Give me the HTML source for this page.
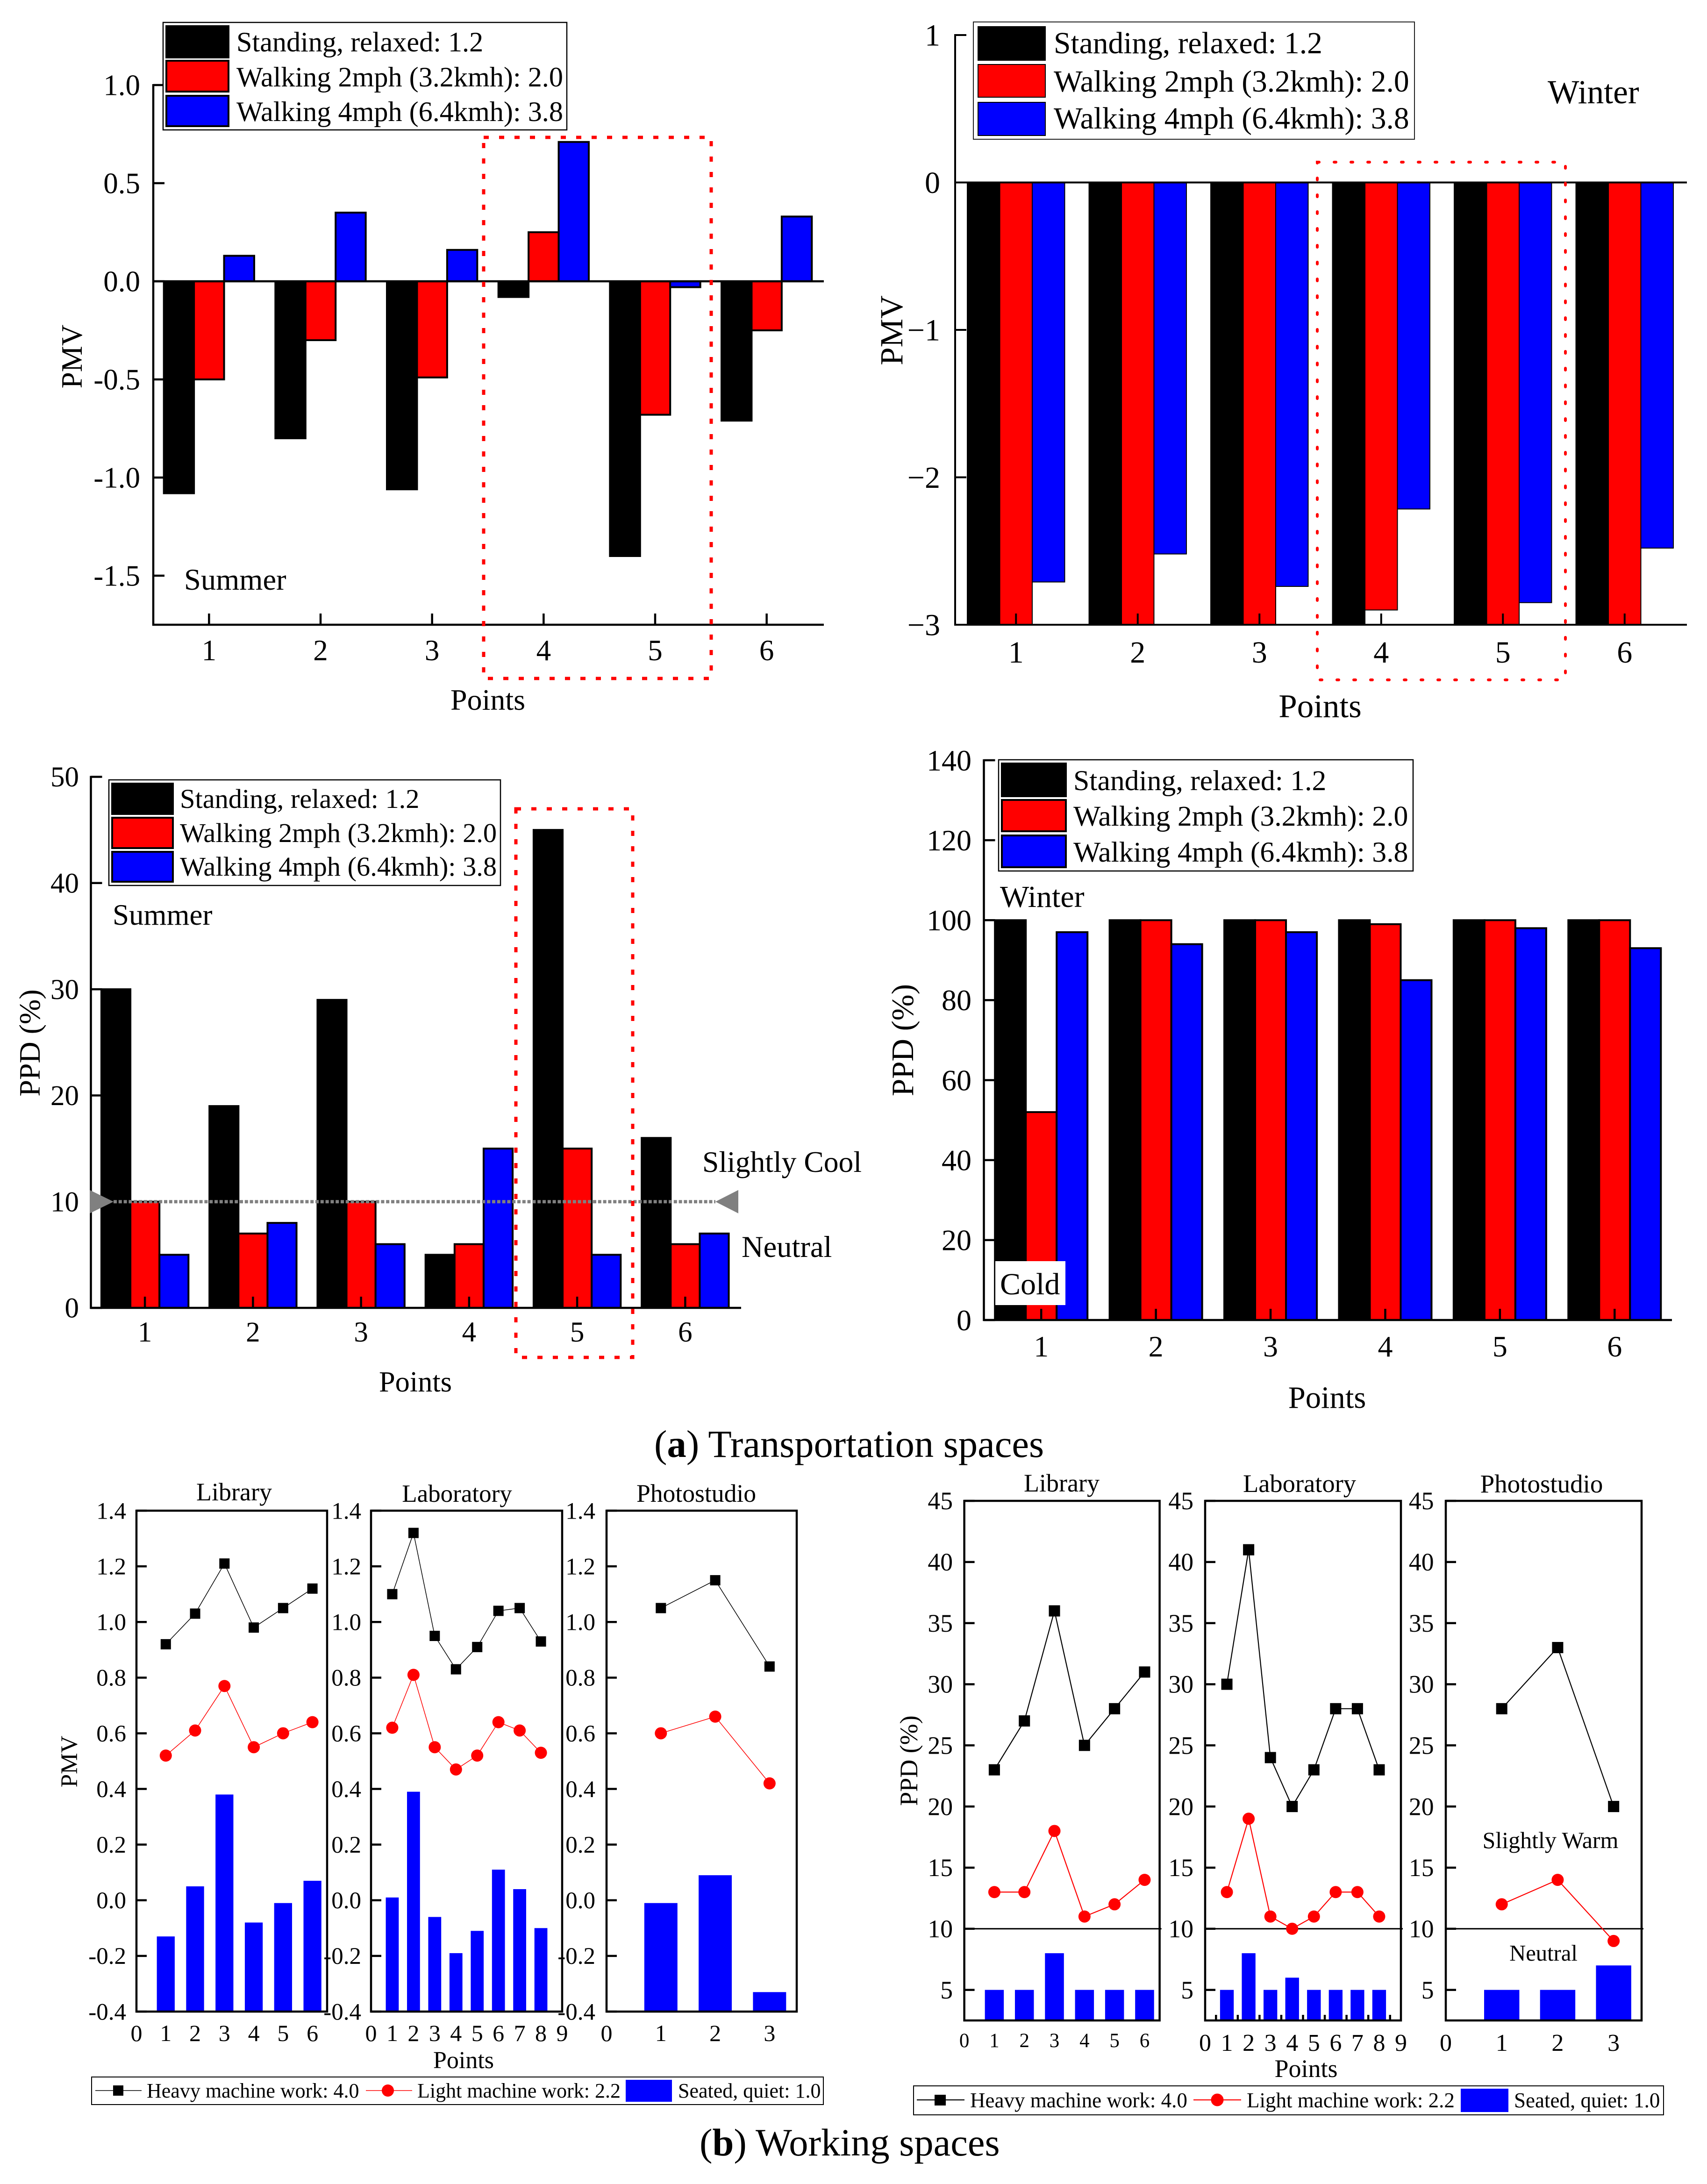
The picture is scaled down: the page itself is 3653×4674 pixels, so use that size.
<!DOCTYPE html>
<html lang="en">
<head>
<meta charset="utf-8">
<title>PMV and PPD charts</title>
<style>
html,body{margin:0;padding:0;background:#fff;}
svg{display:block;}
text{font-family:"Liberation Serif","Times New Roman",serif;fill:#000;}
</style>
</head>
<body>
<svg xmlns="http://www.w3.org/2000/svg" width="3653" height="4674" viewBox="0 0 3653 4674">
<rect width="3653" height="4674" fill="#fff"/>

<!-- Summer PMV -->
<g>
  <g id="summer-pmv-plot"></g>
  <g>
    <rect x="349" y="48" width="864" height="230" fill="#fff" stroke="#000" stroke-width="2.5"/>
    <rect x="356" y="56" width="133" height="67" fill="#000" stroke="#000" stroke-width="4"/>
    <rect x="356" y="130" width="133" height="66" fill="#f00" stroke="#000" stroke-width="4"/>
    <rect x="356" y="205" width="133" height="65" fill="#00f" stroke="#000" stroke-width="4"/>
    <text x="506" y="110" font-size="60.2">Standing, relaxed: 1.2</text>
    <text x="506" y="185" font-size="60.2">Walking 2mph (3.2kmh): 2.0</text>
    <text x="506" y="259" font-size="60.2">Walking 4mph (6.4kmh): 3.8</text>
  </g>
  <text x="394" y="1262" font-size="64.5">Summer</text>
  <text transform="translate(175,763) rotate(-90)" text-anchor="middle" font-size="63">PMV</text>
  <text x="1044" y="1519" text-anchor="middle" font-size="64">Points</text>
  <rect x="1035" y="294" width="487" height="1158" fill="none" stroke="#f00" stroke-width="7" stroke-dasharray="11 22"/>
</g>

<!-- Winter PMV -->
<g>
  <g id="winter-pmv-plot"></g>
  <g>
    <rect x="2083" y="47" width="944" height="251" fill="#fff" stroke="#222" stroke-width="2"/>
    <rect x="2093" y="57" width="144" height="72" fill="#000" stroke="#000" stroke-width="2"/>
    <rect x="2093" y="138" width="144" height="70" fill="#f00" stroke="#000" stroke-width="2"/>
    <rect x="2093" y="219" width="144" height="71" fill="#00f" stroke="#000" stroke-width="2"/>
    <text x="2255" y="114" font-size="65.5">Standing, relaxed: 1.2</text>
    <text x="2255" y="196" font-size="65.5">Walking 2mph (3.2kmh): 2.0</text>
    <text x="2255" y="275" font-size="65.5">Walking 4mph (6.4kmh): 3.8</text>
  </g>
  <text x="3312" y="221" font-size="71.5">Winter</text>
  <text transform="translate(1931,707) rotate(-90)" text-anchor="middle" font-size="69">PMV</text>
  <text x="2825" y="1535" text-anchor="middle" font-size="71">Points</text>
  <rect x="2819" y="347" width="531" height="1108" fill="none" stroke="#f00" stroke-width="6" stroke-dasharray="4 32" stroke-linecap="round"/>
</g>

<!-- Summer PPD -->
<g>
  <g id="summer-ppd-plot"></g>
  <g>
    <rect x="233" y="1669" width="838" height="226" fill="#fff" stroke="#000" stroke-width="2.5"/>
    <rect x="240" y="1677" width="130" height="65" fill="#000" stroke="#000" stroke-width="4"/>
    <rect x="240" y="1750" width="130" height="65" fill="#f00" stroke="#000" stroke-width="4"/>
    <rect x="240" y="1823" width="130" height="64" fill="#00f" stroke="#000" stroke-width="4"/>
    <text x="385" y="1729" font-size="58.4">Standing, relaxed: 1.2</text>
    <text x="385" y="1802" font-size="58.4">Walking 2mph (3.2kmh): 2.0</text>
    <text x="385" y="1874" font-size="58.4">Walking 4mph (6.4kmh): 3.8</text>
  </g>
  <text x="241" y="1979" font-size="63">Summer</text>
  <text x="1503" y="2508" font-size="63.6">Slightly Cool</text>
  <text x="1587" y="2690" font-size="64.5">Neutral</text>
  <text transform="translate(85,2232) rotate(-90)" text-anchor="middle" font-size="64">PPD (%)</text>
  <text x="889" y="2978" text-anchor="middle" font-size="62.4">Points</text>
  <rect x="1104" y="1731" width="250" height="1174" fill="none" stroke="#f00" stroke-width="7" stroke-dasharray="11 22"/>
</g>

<!-- Winter PPD -->
<g>
  <g id="winter-ppd-plot"></g>
  <g>
    <rect x="2137" y="1626" width="887" height="238" fill="#fff" stroke="#000" stroke-width="2.5"/>
    <rect x="2144" y="1634" width="137" height="70" fill="#000" stroke="#000" stroke-width="4"/>
    <rect x="2144" y="1712" width="137" height="67" fill="#f00" stroke="#000" stroke-width="4"/>
    <rect x="2144" y="1788" width="137" height="68" fill="#00f" stroke="#000" stroke-width="4"/>
    <text x="2297" y="1691" font-size="61.7">Standing, relaxed: 1.2</text>
    <text x="2297" y="1767" font-size="61.7">Walking 2mph (3.2kmh): 2.0</text>
    <text x="2297" y="1844" font-size="61.7">Walking 4mph (6.4kmh): 3.8</text>
  </g>
  <text x="2140" y="1941" font-size="66">Winter</text>
  <rect x="2130" y="2699" width="150" height="94" fill="#fff"/>
  <text x="2140" y="2770" font-size="66">Cold</text>
  <text transform="translate(1954,2226) rotate(-90)" text-anchor="middle" font-size="67">PPD (%)</text>
  <text x="2840" y="3013" text-anchor="middle" font-size="66.6">Points</text>
</g>

<text x="1400" y="3118" font-size="82.5">(<tspan font-weight="bold">a</tspan>) Transportation spaces</text>

<!-- Working spaces PMV -->
<g>
  <g id="work-pmv-library"></g>
  <g id="work-pmv-laboratory"></g>
  <g id="work-pmv-photostudio"></g>
  <text x="501" y="3211" text-anchor="middle" font-size="54">Library</text>
  <text x="978" y="3214" text-anchor="middle" font-size="53">Laboratory</text>
  <text x="1490" y="3214" text-anchor="middle" font-size="53.6">Photostudio</text>
  <text transform="translate(165,3770) rotate(-90)" text-anchor="middle" font-size="51">PMV</text>
  <text x="992" y="4426" text-anchor="middle" font-size="52">Points</text>
  <g>
    <rect x="196" y="4445" width="1566" height="59" fill="none" stroke="#000" stroke-width="2"/>
    <line x1="204" y1="4474" x2="303" y2="4474" stroke="#000" stroke-width="1.5"/>
    <rect x="242" y="4463" width="22" height="22" fill="#000"/>
    <text x="314" y="4489" font-size="44">Heavy machine work: 4.0</text>
    <line x1="783" y1="4474" x2="882" y2="4474" stroke="#f00" stroke-width="1.5"/>
    <circle cx="830" cy="4474" r="13" fill="#f00"/>
    <text x="893" y="4489" font-size="44">Light machine work: 2.2</text>
    <rect x="1339" y="4451" width="99" height="47" fill="#00f"/>
    <text x="1451" y="4489" font-size="44">Seated, quiet: 1.0</text>
  </g>
</g>

<!-- Working spaces PPD -->
<g>
  <g id="work-ppd-library"></g>
  <g id="work-ppd-laboratory"></g>
  <g id="work-ppd-photostudio"></g>
  <text x="2272" y="3192" text-anchor="middle" font-size="54">Library</text>
  <text x="2781" y="3193" text-anchor="middle" font-size="54.5">Laboratory</text>
  <text x="3299" y="3194" text-anchor="middle" font-size="55">Photostudio</text>
  <text x="3318" y="3955" text-anchor="middle" font-size="50">Slightly Warm</text>
  <text x="3303" y="4196" text-anchor="middle" font-size="48.6">Neutral</text>
  <text transform="translate(1963,3768) rotate(-90)" text-anchor="middle" font-size="54">PPD (%)</text>
  <text x="2795" y="4445" text-anchor="middle" font-size="54">Points</text>
  <g>
    <rect x="1955" y="4464" width="1605" height="62" fill="none" stroke="#000" stroke-width="2"/>
    <line x1="1962" y1="4494" x2="2064" y2="4494" stroke="#000" stroke-width="2.2"/>
    <rect x="2000" y="4483" width="24" height="23" fill="#000"/>
    <text x="2076" y="4510" font-size="45">Heavy machine work: 4.0</text>
    <line x1="2554" y1="4494" x2="2656" y2="4494" stroke="#f00" stroke-width="2.2"/>
    <circle cx="2605" cy="4494" r="13.5" fill="#f00"/>
    <text x="2668" y="4510" font-size="45">Light machine work: 2.2</text>
    <rect x="3126" y="4470" width="102" height="50" fill="#00f"/>
    <text x="3240" y="4510" font-size="45">Seated, quiet: 1.0</text>
  </g>
</g>

<text x="1497" y="4613" font-size="82.5">(<tspan font-weight="bold">b</tspan>) Working spaces</text>
</svg>

<script>
// ---- transportation charts: shared categories ----
const pointCategories = [1, 2, 3, 4, 5, 6];

// Summer PMV values
const summerPmvStanding = [-1.08, -0.8, -1.06, -0.08, -1.4, -0.71];
const summerPmvWalking2 = [-0.5, -0.3, -0.49, 0.25, -0.68, -0.25];
const summerPmvWalking4 = [0.13, 0.35, 0.16, 0.71, -0.03, 0.33];
const summerPmvTicks = [1, 0.5, 0, -0.5, -1, -1.5];
const summerPmvTickLabels = ['1.0', '0.5', '0.0', '-0.5', '-1.0', '-1.5'];

// Winter PMV values
const winterPmvStanding = [-3, -3, -3, -3, -3, -3];
const winterPmvWalking2 = [-3, -3, -3, -2.9, -3, -3];
const winterPmvWalking4 = [-2.71, -2.52, -2.74, -2.215, -2.85, -2.48];
const winterPmvTicks = [1, 0, -1, -2, -3];
const winterPmvTickLabels = ['1', '0', '\u22121', '\u22122', '\u22123'];

// Summer PPD values
const summerPpdStanding = [30, 19, 29, 5, 45, 16];
const summerPpdWalking2 = [10, 7, 10, 6, 15, 6];
const summerPpdWalking4 = [5, 8, 6, 15, 5, 7];
const summerPpdTicks = [0, 10, 20, 30, 40, 50];
const summerPpdTickLabels = ['0', '10', '20', '30', '40', '50'];
const summerPpdThreshold = 10;

// Winter PPD values
const winterPpdStanding = [100, 100, 100, 100, 100, 100];
const winterPpdWalking2 = [52, 100, 100, 99, 100, 100];
const winterPpdWalking4 = [97, 94, 97, 85, 98, 93];
const winterPpdTicks = [0, 20, 40, 60, 80, 100, 120, 140];
const winterPpdTickLabels = ['0', '20', '40', '60', '80', '100', '120', '140'];

// ---- working-space charts ----
const libraryPoints = [1, 2, 3, 4, 5, 6];
const laboratoryPoints = [1, 2, 3, 4, 5, 6, 7, 8];
const photostudioPoints = [1, 2, 3];
const libraryAxisLabels = [0, 1, 2, 3, 4, 5, 6];
const laboratoryAxisLabels = [0, 1, 2, 3, 4, 5, 6, 7, 8, 9];
const photostudioAxisLabels = [0, 1, 2, 3];

const pmvLibraryHeavy = [0.92, 1.03, 1.21, 0.98, 1.05, 1.12];
const pmvLibraryLight = [0.52, 0.61, 0.77, 0.55, 0.6, 0.64];
const pmvLibrarySeated = [-0.13, 0.05, 0.38, -0.08, -0.01, 0.07];
const pmvLaboratoryHeavy = [1.1, 1.32, 0.95, 0.83, 0.91, 1.04, 1.05, 0.93];
const pmvLaboratoryLight = [0.62, 0.81, 0.55, 0.47, 0.52, 0.64, 0.61, 0.53];
const pmvLaboratorySeated = [0.01, 0.39, -0.06, -0.19, -0.11, 0.11, 0.04, -0.1];
const pmvPhotostudioHeavy = [1.05, 1.15, 0.84];
const pmvPhotostudioLight = [0.6, 0.66, 0.42];
const pmvPhotostudioSeated = [-0.01, 0.09, -0.33];
const pmvWorkTicks = [-0.4, -0.2, 0, 0.2, 0.4, 0.6, 0.8, 1, 1.2, 1.4];
const pmvWorkTickLabels = ['-0.4', '-0.2', '0.0', '0.2', '0.4', '0.6', '0.8', '1.0', '1.2', '1.4'];

const ppdLibraryHeavy = [23, 27, 36, 25, 28, 31];
const ppdLibraryLight = [13, 13, 18, 11, 12, 14];
const ppdLibrarySeated = [5, 5, 8, 5, 5, 5];
const ppdLaboratoryHeavy = [30, 41, 24, 20, 23, 28, 28, 23];
const ppdLaboratoryLight = [13, 19, 11, 10, 11, 13, 13, 11];
const ppdLaboratorySeated = [5, 8, 5, 6, 5, 5, 5, 5];
const ppdPhotostudioHeavy = [28, 33, 20];
const ppdPhotostudioLight = [12, 14, 9];
const ppdPhotostudioSeated = [5, 5, 7];
const ppdWorkTicks = [5, 10, 15, 20, 25, 30, 35, 40, 45];
const ppdWorkTickLabels = ['5', '10', '15', '20', '25', '30', '35', '40', '45'];
const ppdComfortLine = 10;

const SVG_NS = 'http://www.w3.org/2000/svg';

function make(parent, tag, name, attrs, content) {
  const el = document.createElementNS(SVG_NS, tag);
  
  
  Object.keys(attrs).forEach(function (k) { el.setAttribute(k, attrs[k]); });
  if (content !== undefined) el.textContent = content;
  parent.appendChild(el);
  return el;
}

function linear(d0, d1, r0, r1) {
  return function (v) { return r0 + (v - d0) * (r1 - r0) / (d1 - d0); };
}

function drawBarChart(id, o) {
  const g = document.getElementById(id);
  const x = linear(0.5, 6.5, o.left, o.right);
  const y = linear(o.yMin, o.yMax, o.bottom, o.top);
  const base = y(Math.max(o.yMin, Math.min(0, o.yMax)));
  const unit = (o.right - o.left) / 6;
  const w = unit * o.groupFrac / 3;
  const seriesColors = ['#000', '#f00', '#00f'];
  const seriesNames = ['standing', 'walking-2mph', 'walking-4mph'];
  o.series.forEach(function (vals, s) {
    vals.forEach(function (v, i) {
      const bx = x(pointCategories[i]) - 1.5 * w + s * w;
      const by = y(v);
      make(g, 'rect', 'bar-' + seriesNames[s] + '-point-' + pointCategories[i], {
        x: bx, y: Math.min(by, base), width: w, height: Math.abs(by - base),
        fill: seriesColors[s], stroke: '#000', 'stroke-width': o.barStroke
      });
    });
  });
  // axes
  make(g, 'line', 'y-axis', { x1: o.left, x2: o.left, y1: o.top - 2, y2: o.bottom + 2, stroke: '#000', 'stroke-width': o.axisStroke });
  make(g, 'line', 'x-axis', { x1: o.left - 2, x2: o.axisEnd, y1: o.bottom, y2: o.bottom, stroke: '#000', 'stroke-width': o.axisStroke });
  if (o.yMin < 0 && o.yMax > 0) {
    make(g, 'line', 'zero-line', { x1: o.left, x2: o.axisEnd, y1: y(0), y2: y(0), stroke: '#000', 'stroke-width': o.axisStroke });
  }
  o.ticks.forEach(function (t, i) {
    const ty = y(t);
    make(g, 'line', 'y-tick', { x1: o.left, x2: o.left + o.tickLen, y1: ty, y2: ty, stroke: '#000', 'stroke-width': o.axisStroke });
    make(g, 'text', 'y-tick-label', { x: o.labelRight, y: ty + o.labelSize * 0.34, 'text-anchor': 'end', 'font-size': o.labelSize }, o.tickLabels[i]);
  });
  pointCategories.forEach(function (c) {
    const tx = x(c);
    make(g, 'line', 'x-tick', { x1: tx, x2: tx, y1: o.bottom, y2: o.bottom - o.tickLen, stroke: '#000', 'stroke-width': o.axisStroke });
    make(g, 'text', 'x-tick-label', { x: tx, y: o.xLabelY, 'text-anchor': 'middle', 'font-size': o.labelSize }, String(c));
  });
  return { x: x, y: y, g: g };
}

function drawWorkPanel(id, o) {
  const g = document.getElementById(id);
  const x = linear(0, o.xMax, o.left, o.right);
  const y = linear(o.yMin, o.yMax, o.bottom, o.top);
  const barW = (x(1) - x(0)) * o.barFrac;
  o.points.forEach(function (p, i) {
    const ty = y(o.seated[i]);
    make(g, 'rect', 'bar-seated-point-' + p, { x: x(p) - barW / 2, y: ty, width: barW, height: o.bottom - ty, fill: '#00f' });
  });
  if (o.comfortLine !== undefined) {
    make(g, 'line', 'comfort-reference-line', { x1: o.left, x2: o.right + 4, y1: y(o.comfortLine), y2: y(o.comfortLine), stroke: '#000', 'stroke-width': 3 });
  }
  if (o.minorTicks) {
    for (let t = 0.5; t < o.xMax; t += 1) {
      make(g, 'line', 'x-minor-tick', { x1: x(t), x2: x(t), y1: o.bottom, y2: o.bottom - 12, stroke: '#000', 'stroke-width': 4.5 });
    }
  }
  make(g, 'rect', 'panel-frame', { x: o.left, y: o.top, width: o.right - o.left, height: o.bottom - o.top, fill: 'none', stroke: '#000', 'stroke-width': 4.5 });
  o.ticks.forEach(function (t, i) {
    const ty = y(t);
    make(g, 'line', 'y-tick', { x1: o.left, x2: o.left + 22, y1: ty, y2: ty, stroke: '#000', 'stroke-width': 4.5 });
    make(g, 'text', 'y-tick-label', { x: o.labelRight, y: ty + o.yLabelSize * 0.34, 'text-anchor': 'end', 'font-size': o.yLabelSize }, o.tickLabels[i]);
  });
  o.axisLabels.forEach(function (t) {
    make(g, 'text', 'x-tick-label', { x: x(t), y: o.xLabelY, 'text-anchor': 'middle', 'font-size': o.xLabelSize }, String(t));
  });
  const heavyPath = o.points.map(function (p, i) { return x(p) + ',' + y(o.heavy[i]); }).join(' ');
  make(g, 'polyline', 'heavy-work-line', { points: heavyPath, fill: 'none', stroke: '#000', 'stroke-width': o.lineWidth });
  const lightPath = o.points.map(function (p, i) { return x(p) + ',' + y(o.light[i]); }).join(' ');
  make(g, 'polyline', 'light-work-line', { points: lightPath, fill: 'none', stroke: '#f00', 'stroke-width': o.lineWidth });
  o.points.forEach(function (p, i) {
    make(g, 'rect', 'heavy-work-point-' + p, { x: x(p) - o.marker / 2, y: y(o.heavy[i]) - o.marker / 2, width: o.marker, height: o.marker, fill: '#000' });
    make(g, 'circle', 'light-work-point-' + p, { cx: x(p), cy: y(o.light[i]), r: o.circleR, fill: '#f00' });
  });
}

drawBarChart('summer-pmv-plot', {
  left: 328, right: 1760, axisEnd: 1763, top: 182, bottom: 1337, yMin: -1.75, yMax: 1,
  groupFrac: 0.81, barStroke: 4, axisStroke: 4.5, tickLen: 24, labelSize: 63, labelRight: 300, xLabelY: 1413,
  series: [summerPmvStanding, summerPmvWalking2, summerPmvWalking4],
  ticks: summerPmvTicks, tickLabels: summerPmvTickLabels
});

drawBarChart('winter-pmv-plot', {
  left: 2044, right: 3607, axisEnd: 3610, top: 75, bottom: 1337, yMin: -3, yMax: 1,
  groupFrac: 0.8, barStroke: 2, axisStroke: 4, tickLen: 24, labelSize: 66, labelRight: 2012, xLabelY: 1418,
  series: [winterPmvStanding, winterPmvWalking2, winterPmvWalking4],
  ticks: winterPmvTicks, tickLabels: winterPmvTickLabels
});

const summerPpdScales = drawBarChart('summer-ppd-plot', {
  left: 194.5, right: 1582, axisEnd: 1586, top: 1662.5, bottom: 2799, yMin: 0, yMax: 50,
  groupFrac: 0.806, barStroke: 4, axisStroke: 4.5, tickLen: 24, labelSize: 61, labelRight: 169, xLabelY: 2871,
  series: [summerPpdStanding, summerPpdWalking2, summerPpdWalking4],
  ticks: summerPpdTicks, tickLabels: summerPpdTickLabels
});
(function () {
  const g = summerPpdScales.g;
  const ly = summerPpdScales.y(summerPpdThreshold);
  make(g, 'line', 'slightly-cool-threshold-line', { x1: 243, x2: 1531, y1: ly, y2: ly, stroke: '#808080', 'stroke-width': 7, 'stroke-dasharray': '7 3.8' });
  make(g, 'polygon', 'threshold-arrow-left', { points: '192,' + (ly - 25) + ' 243,' + ly + ' 192,' + (ly + 25), fill: '#808080' });
  make(g, 'polygon', 'threshold-arrow-right', { points: '1580,' + (ly - 25) + ' 1531,' + ly + ' 1580,' + (ly + 25), fill: '#808080' });
})();

drawBarChart('winter-ppd-plot', {
  left: 2105.5, right: 3578, axisEnd: 3578, top: 1627, bottom: 2825, yMin: 0, yMax: 140,
  groupFrac: 0.807, barStroke: 4, axisStroke: 4.5, tickLen: 24, labelSize: 64, labelRight: 2079, xLabelY: 2903,
  series: [winterPpdStanding, winterPpdWalking2, winterPpdWalking4],
  ticks: winterPpdTicks, tickLabels: winterPpdTickLabels
});

const pmvWorkBase = { top: 3233, bottom: 4305, yMin: -0.4, yMax: 1.4, ticks: pmvWorkTicks, tickLabels: pmvWorkTickLabels,
  yLabelSize: 51, xLabelSize: 50, xLabelY: 4368, marker: 22, circleR: 13, lineWidth: 1.5, barFrac: 0.61 };
drawWorkPanel('work-pmv-library', Object.assign({}, pmvWorkBase, {
  left: 292, right: 700, xMax: 6.5, labelRight: 270, points: libraryPoints, axisLabels: libraryAxisLabels,
  heavy: pmvLibraryHeavy, light: pmvLibraryLight, seated: pmvLibrarySeated
}));
drawWorkPanel('work-pmv-laboratory', Object.assign({}, pmvWorkBase, {
  left: 794, right: 1203, xMax: 9, labelRight: 773, points: laboratoryPoints, axisLabels: laboratoryAxisLabels,
  heavy: pmvLaboratoryHeavy, light: pmvLaboratoryLight, seated: pmvLaboratorySeated
}));
drawWorkPanel('work-pmv-photostudio', Object.assign({}, pmvWorkBase, {
  left: 1298, right: 1705, xMax: 3.5, labelRight: 1274, points: photostudioPoints, axisLabels: photostudioAxisLabels,
  heavy: pmvPhotostudioHeavy, light: pmvPhotostudioLight, seated: pmvPhotostudioSeated
}));

const ppdWorkBase = { top: 3212, bottom: 4324, yMin: 2.5, yMax: 45, ticks: ppdWorkTicks, tickLabels: ppdWorkTickLabels,
  yLabelSize: 53.6, marker: 24, circleR: 13, lineWidth: 2.2, barFrac: 0.63, comfortLine: ppdComfortLine };
drawWorkPanel('work-ppd-library', Object.assign({}, ppdWorkBase, {
  left: 2063.6, right: 2481.6, xMax: 6.5, labelRight: 2039, xLabelSize: 43, xLabelY: 4381,
  points: libraryPoints, axisLabels: libraryAxisLabels,
  heavy: ppdLibraryHeavy, light: ppdLibraryLight, seated: ppdLibrarySeated
}));
drawWorkPanel('work-ppd-laboratory', Object.assign({}, ppdWorkBase, {
  left: 2579, right: 2998, xMax: 9, labelRight: 2554, xLabelSize: 52, xLabelY: 4389, minorTicks: true,
  points: laboratoryPoints, axisLabels: laboratoryAxisLabels,
  heavy: ppdLaboratoryHeavy, light: ppdLaboratoryLight, seated: ppdLaboratorySeated
}));
drawWorkPanel('work-ppd-photostudio', Object.assign({}, ppdWorkBase, {
  left: 3094, right: 3513, xMax: 3.5, labelRight: 3068.5, xLabelSize: 52, xLabelY: 4389,
  points: photostudioPoints, axisLabels: photostudioAxisLabels,
  heavy: ppdPhotostudioHeavy, light: ppdPhotostudioLight, seated: ppdPhotostudioSeated
}));
</script>
</body>
</html>
